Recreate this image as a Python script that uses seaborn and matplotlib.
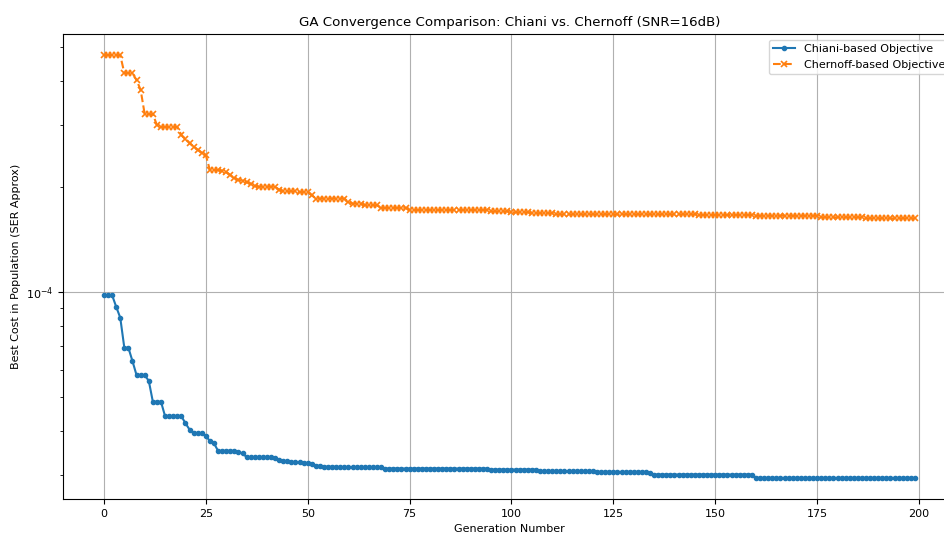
import numpy as np
import matplotlib
matplotlib.use("Agg")
import matplotlib.pyplot as plt
import seaborn as sns

# best cost per generation
generations = np.arange(200)

chiani_cost = [
    9.80e-5, 9.80e-5, 9.80e-5, 9.08e-5, 8.45e-5, 6.93e-5, 6.93e-5, 6.35e-5, 5.79e-5, 5.79e-5,
    5.79e-5, 5.58e-5, 4.86e-5, 4.86e-5, 4.86e-5, 4.42e-5, 4.42e-5, 4.42e-5, 4.42e-5, 4.42e-5,
    4.22e-5, 4.05e-5, 3.95e-5, 3.95e-5, 3.95e-5, 3.89e-5, 3.75e-5, 3.70e-5, 3.52e-5, 3.52e-5,
    3.52e-5, 3.52e-5, 3.52e-5, 3.50e-5, 3.46e-5, 3.38e-5, 3.38e-5, 3.38e-5, 3.38e-5, 3.38e-5,
    3.38e-5, 3.38e-5, 3.35e-5, 3.31e-5, 3.29e-5, 3.29e-5, 3.27e-5, 3.27e-5, 3.27e-5, 3.25e-5,
    3.25e-5, 3.23e-5, 3.19e-5, 3.19e-5, 3.17e-5, 3.17e-5, 3.17e-5, 3.17e-5, 3.156e-5, 3.156e-5,
    3.156e-5, 3.156e-5, 3.156e-5, 3.156e-5, 3.156e-5, 3.156e-5, 3.156e-5, 3.156e-5, 3.156e-5, 3.134e-5,
    3.134e-5, 3.134e-5, 3.134e-5, 3.134e-5, 3.134e-5, 3.134e-5, 3.134e-5, 3.134e-5, 3.134e-5, 3.134e-5,
    3.134e-5, 3.134e-5, 3.134e-5, 3.134e-5, 3.134e-5, 3.134e-5, 3.134e-5, 3.134e-5, 3.134e-5, 3.134e-5,
    3.134e-5, 3.134e-5, 3.134e-5, 3.134e-5, 3.134e-5, 3.113e-5, 3.113e-5, 3.113e-5, 3.113e-5, 3.113e-5,
    3.113e-5, 3.113e-5, 3.113e-5, 3.113e-5, 3.113e-5, 3.113e-5, 3.113e-5, 3.08e-5, 3.08e-5, 3.08e-5,
    3.08e-5, 3.08e-5, 3.08e-5, 3.08e-5, 3.08e-5, 3.08e-5, 3.08e-5, 3.08e-5, 3.08e-5, 3.08e-5,
    3.08e-5, 3.066e-5, 3.066e-5, 3.066e-5, 3.066e-5, 3.066e-5, 3.066e-5, 3.066e-5, 3.066e-5, 3.066e-5,
    3.066e-5, 3.066e-5, 3.066e-5, 3.066e-5, 3.04e-5, 3.013e-5, 3.013e-5, 3.013e-5, 3.013e-5, 3.013e-5,
    3.013e-5, 3.013e-5, 3.013e-5, 3.013e-5, 3.013e-5, 3.013e-5, 3.013e-5, 3.013e-5, 3.013e-5, 3.013e-5,
    3.013e-5, 3.013e-5, 3.013e-5, 3.013e-5, 3.013e-5, 3.013e-5, 3.013e-5, 3.013e-5, 3.013e-5, 3.013e-5,
    2.947e-5, 2.947e-5, 2.947e-5, 2.947e-5, 2.947e-5, 2.947e-5, 2.947e-5, 2.947e-5, 2.947e-5, 2.947e-5,
    2.947e-5, 2.947e-5, 2.947e-5, 2.947e-5, 2.947e-5, 2.947e-5, 2.947e-5, 2.947e-5, 2.947e-5, 2.947e-5,
    2.947e-5, 2.947e-5, 2.947e-5, 2.947e-5, 2.947e-5, 2.947e-5, 2.947e-5, 2.947e-5, 2.947e-5, 2.947e-5,
    2.947e-5, 2.947e-5, 2.947e-5, 2.947e-5, 2.947e-5, 2.947e-5, 2.947e-5, 2.947e-5, 2.947e-5, 2.947e-5,
]

chernoff_cost = [
    4.75e-4, 4.75e-4, 4.75e-4, 4.75e-4, 4.75e-4, 4.22e-4, 4.22e-4, 4.22e-4, 4.03e-4, 3.78e-4,
    3.22e-4, 3.22e-4, 3.22e-4, 3.00e-4, 2.96e-4, 2.96e-4, 2.96e-4, 2.96e-4, 2.96e-4, 2.81e-4,
    2.74e-4, 2.66e-4, 2.60e-4, 2.55e-4, 2.50e-4, 2.46e-4, 2.23e-4, 2.23e-4, 2.23e-4, 2.22e-4,
    2.20e-4, 2.16e-4, 2.12e-4, 2.09e-4, 2.08e-4, 2.06e-4, 2.04e-4, 2.01e-4, 2.00e-4, 2.00e-4,
    2.00e-4, 2.00e-4, 2.00e-4, 1.96e-4, 1.94e-4, 1.94e-4, 1.94e-4, 1.94e-4, 1.93e-4, 1.93e-4,
    1.93e-4, 1.89e-4, 1.85e-4, 1.85e-4, 1.85e-4, 1.85e-4, 1.85e-4, 1.85e-4, 1.85e-4, 1.85e-4,
    1.81e-4, 1.79e-4, 1.79e-4, 1.79e-4, 1.77e-4, 1.77e-4, 1.77e-4, 1.77e-4, 1.74e-4, 1.74e-4,
    1.74e-4, 1.74e-4, 1.74e-4, 1.74e-4, 1.74e-4, 1.715e-4, 1.715e-4, 1.715e-4, 1.715e-4, 1.715e-4,
    1.715e-4, 1.715e-4, 1.715e-4, 1.715e-4, 1.715e-4, 1.715e-4, 1.715e-4, 1.715e-4, 1.715e-4, 1.715e-4,
    1.715e-4, 1.715e-4, 1.715e-4, 1.715e-4, 1.715e-4, 1.70e-4, 1.70e-4, 1.70e-4, 1.70e-4, 1.70e-4,
    1.69e-4, 1.69e-4, 1.69e-4, 1.69e-4, 1.69e-4, 1.68e-4, 1.68e-4, 1.68e-4, 1.68e-4, 1.68e-4,
    1.68e-4, 1.667e-4, 1.667e-4, 1.667e-4, 1.667e-4, 1.667e-4, 1.667e-4, 1.667e-4, 1.667e-4, 1.667e-4,
    1.667e-4, 1.667e-4, 1.667e-4, 1.667e-4, 1.667e-4, 1.667e-4, 1.667e-4, 1.667e-4, 1.667e-4, 1.667e-4,
    1.667e-4, 1.667e-4, 1.667e-4, 1.667e-4, 1.667e-4, 1.667e-4, 1.667e-4, 1.667e-4, 1.667e-4, 1.667e-4,
    1.667e-4, 1.667e-4, 1.667e-4, 1.667e-4, 1.667e-4, 1.667e-4, 1.66e-4, 1.66e-4, 1.66e-4, 1.66e-4,
    1.66e-4, 1.66e-4, 1.66e-4, 1.66e-4, 1.66e-4, 1.66e-4, 1.66e-4, 1.66e-4, 1.66e-4, 1.66e-4,
    1.652e-4, 1.652e-4, 1.652e-4, 1.652e-4, 1.652e-4, 1.652e-4, 1.652e-4, 1.652e-4, 1.652e-4, 1.652e-4,
    1.652e-4, 1.652e-4, 1.652e-4, 1.652e-4, 1.652e-4, 1.652e-4, 1.635e-4, 1.635e-4, 1.635e-4, 1.635e-4,
    1.635e-4, 1.635e-4, 1.635e-4, 1.635e-4, 1.635e-4, 1.635e-4, 1.635e-4, 1.624e-4, 1.624e-4, 1.624e-4,
    1.624e-4, 1.624e-4, 1.624e-4, 1.624e-4, 1.624e-4, 1.624e-4, 1.624e-4, 1.624e-4, 1.624e-4, 1.624e-4,
]

fig = plt.figure(figsize=(9.45, 5.34), dpi=100)
# the reference is cropped on the right, so the axes run past the figure edge
ax = fig.add_axes([0.0671, 0.0655, 0.944, 0.8708])

sns.lineplot(x=generations, y=chiani_cost, ax=ax, marker='.', markersize=6,
             markeredgewidth=1, markeredgecolor='#1f77b4', color='#1f77b4',
             linewidth=1.5, label='Chiani-based Objective')
sns.lineplot(x=generations, y=chernoff_cost, ax=ax, marker='x', markersize=5,
             markeredgewidth=1.2, markeredgecolor='#ff7f0e', linestyle='--',
             color='#ff7f0e', linewidth=1.5, label='Chernoff-based Objective')

ax.set_yscale('log')
ax.set_title('GA Convergence Comparison: Chiani vs. Chernoff (SNR=16dB)', fontsize=9.6)
ax.set_xlabel('Generation Number', fontsize=8)
ax.set_ylabel('Best Cost in Population (SER Approx)', fontsize=8)
ax.tick_params(labelsize=8)
ax.grid(True, which='major', color='#b0b0b0', linewidth=0.8)
ax.legend(loc='upper right', fontsize=8)

fig.savefig('out.png', dpi=100)
